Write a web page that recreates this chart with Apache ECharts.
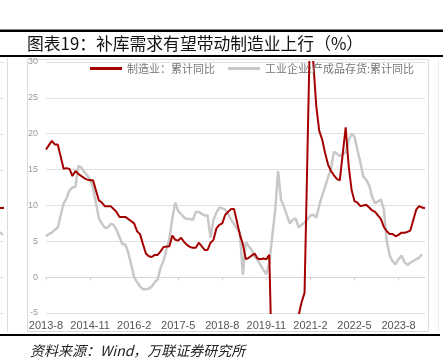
<!DOCTYPE html>
<html><head><meta charset="utf-8">
<script src="https://cdn.jsdelivr.net/npm/echarts@6/dist/echarts.min.js"></script>
<style>html,body{margin:0;padding:0;background:#fff;}#c{width:446px;height:362px;}</style>
</head><body><div id="c"></div>
<script>
const months = [
 '2013-8','2013-9','2013-10','2013-11','2013-12',
 '2014-1','2014-2','2014-3','2014-4','2014-5','2014-6','2014-7','2014-8','2014-9','2014-10','2014-11','2014-12',
 '2015-1','2015-2','2015-3','2015-4','2015-5','2015-6','2015-7','2015-8','2015-9','2015-10','2015-11','2015-12',
 '2016-1','2016-2','2016-3','2016-4','2016-5','2016-6','2016-7','2016-8','2016-9','2016-10','2016-11','2016-12',
 '2017-1','2017-2','2017-3','2017-4','2017-5','2017-6','2017-7','2017-8','2017-9','2017-10','2017-11','2017-12',
 '2018-1','2018-2','2018-3','2018-4','2018-5','2018-6','2018-7','2018-8','2018-9','2018-10','2018-11','2018-12',
 '2019-1','2019-2','2019-3','2019-4','2019-5','2019-6','2019-7','2019-8','2019-9','2019-10','2019-11','2019-12',
 '2020-1','2020-2','2020-3','2020-4','2020-5','2020-6','2020-7','2020-8','2020-9','2020-10','2020-11','2020-12',
 '2021-1','2021-2','2021-3','2021-4','2021-5','2021-6','2021-7','2021-8','2021-9','2021-10','2021-11','2021-12',
 '2022-1','2022-2','2022-3','2022-4','2022-5','2022-6','2022-7','2022-8','2022-9','2022-10','2022-11','2022-12',
 '2023-1','2023-2','2023-3','2023-4','2023-5','2023-6','2023-7','2023-8','2023-9','2023-10','2023-11','2023-12',
 '2024-1','2024-2','2024-3','2024-4','2024-5'
];
// 制造业固定资产投资：累计同比
const mfgInvest = [
 17.8,18.4,19.0,18.5,18.5,
 null,15.1,15.2,15.1,14.1,14.8,14.4,14.1,13.8,13.6,13.5,13.5,
 null,10.7,10.4,9.9,9.9,9.9,9.5,9.1,8.4,8.4,8.4,8.1,
 null,7.5,6.4,6.0,4.6,3.3,2.9,2.8,3.1,3.1,3.6,4.2,
 null,4.3,5.8,5.2,5.1,5.5,4.9,4.5,4.2,4.1,4.1,4.8,
 null,3.8,3.8,4.8,5.2,6.8,7.3,7.5,8.7,9.1,9.5,9.5,
 null,5.9,4.6,2.5,2.7,3.0,3.3,2.6,2.5,2.6,2.5,3.1,
 null,-31.5,-25.2,-18.8,-14.8,-11.7,-10.2,-8.1,-6.5,-5.3,-3.5,-2.2,
 null,37.3,29.8,23.8,20.4,19.2,17.3,15.7,14.8,14.2,13.7,13.5,
 null,20.9,15.6,12.2,10.6,10.4,9.9,10.0,10.1,9.7,9.3,9.1,
 null,8.1,7.0,6.4,6.0,6.0,5.7,5.9,6.2,6.2,6.3,6.5,
 null,9.4,9.9,9.7,9.6
];
// 工业企业：产成品存货：累计同比
const inventory = [
 5.7,6.0,6.2,6.6,6.9,
 null,10.3,11.0,12.1,12.5,12.6,15.5,15.3,14.7,14.2,13.6,12.5,
 null,8.2,7.5,6.9,6.9,7.4,7.3,6.6,5.6,4.6,4.6,3.4,
 null,0.0,-0.7,-1.3,-1.7,-1.7,-1.6,-1.3,-0.7,-0.3,1.3,2.3,
 null,5.4,8.2,10.4,9.2,8.8,8.3,8.1,8.1,8.0,9.1,9.1,
 null,8.6,8.6,5.5,8.0,9.0,9.7,9.6,9.4,8.8,8.0,7.4,
 null,6.2,0.3,4.9,4.3,3.8,2.8,2.4,1.7,1.0,0.4,2.0,
 null,9.3,14.8,10.8,9.8,8.6,7.5,8.0,8.2,6.9,7.3,7.6,
 null,8.6,8.7,8.3,10.0,11.4,12.6,13.9,15.1,17.5,17.2,16.9,
 null,17.4,19.0,20.0,19.6,17.7,16.0,14.0,13.6,12.8,11.2,10.3,
 null,10.8,9.4,5.0,3.0,2.2,1.8,2.5,3.0,2.1,1.7,2.0,
 null,2.5,2.7,3.2,null
];
const seriesNames = ['制造业：累计同比', '工业企业:产成品存货:累计同比'];
const titleText = '图表19：补库需求有望带动制造业上行（%）';
const sourceText = '资料来源：Wind，万联证券研究所';

const chart = echarts.init(document.getElementById('c'), null, {renderer: 'canvas'});
const font = 'Liberation Sans, Arial, sans-serif';
const cjk = '"Noto Sans CJK SC", sans-serif';
const grayLine = '#dcdcdc';

const leftGridYs = [62, 98, 134, 170, 206, 241, 277, 313];
const graphics = [
  {type:'rect', shape:{x:0, y:29.5, width:443, height:2.5}, style:{fill:'#000'}, silent:true},
  {type:'rect', shape:{x:0, y:55, width:443, height:2}, style:{fill:'#000'}, silent:true},
  {type:'text', x:27, y:44, style:{text:titleText, font:'16.8px ' + cjk, fill:'#111', textVerticalAlign:'middle'}, silent:true},
  {type:'rect', shape:{x:27.5, y:59.5, width:401, height:272}, style:{fill:'none', stroke:grayLine, lineWidth:1}, silent:true},
  {type:'line', shape:{x1:7.5, y1:58, x2:7.5, y2:332}, style:{stroke:grayLine, lineWidth:1}, silent:true},
  {type:'line', shape:{x1:438.5, y1:58, x2:438.5, y2:332}, style:{stroke:'#eeeeee', lineWidth:1}, silent:true},
  {type:'rect', shape:{x:0, y:334, width:440, height:2}, style:{fill:'#000'}, silent:true},
  {type:'text', x:30, y:351, style:{text:sourceText, font:'italic 14px ' + cjk, fill:'#222', textVerticalAlign:'middle'}, silent:true},
  {type:'line', shape:{x1:0, y1:208, x2:4, y2:208}, style:{stroke:'#a50000', lineWidth:2}, silent:true},
  {type:'line', shape:{x1:0, y1:232, x2:3, y2:235}, style:{stroke:'#c8c8c8', lineWidth:2}, silent:true}
];
leftGridYs.forEach(function (y) {
  graphics.push({type:'line', shape:{x1:0, y1:y + 0.5, x2:4, y2:y + 0.5}, style:{stroke:'#e3e3e3', lineWidth:1}, silent:true});
});

chart.setOption({
  animation: false,
  backgroundColor: '#fff',
  graphic: graphics,
  legend: {
    left: 90, top: 63, padding: 0,
    itemWidth: 32, itemHeight: 3, itemGap: 13,
    icon: 'rect',
    textStyle: {fontFamily: cjk, fontSize: 11, color: '#777'},
    data: seriesNames
  },
  grid: {left: 46, right: 21, top: 62, bottom: 49, containLabel: false},
  xAxis: [
    {
      type: 'category', data: months, boundaryGap: false, position: 'bottom',
      axisLine: {show: false, onZero: false},
      axisTick: {show: false},
      axisLabel: {interval: 14, color: '#555', fontFamily: font, fontSize: 11, margin: 7},
      splitLine: {show: false}
    },
    {
      type: 'category', data: months, boundaryGap: false, position: 'bottom',
      axisLine: {show: true, onZero: true, lineStyle: {color: '#d4d4d4', width: 1}},
      axisTick: {show: true, interval: 14, length: 3, lineStyle: {color: '#d4d4d4'}},
      axisLabel: {show: false},
      splitLine: {show: false}
    }
  ],
  yAxis: {
    type: 'value', min: -5, max: 30, interval: 5,
    axisLine: {show: false}, axisTick: {show: false},
    axisLabel: {color: '#999', fontFamily: font, fontSize: 9, margin: 8},
    splitLine: {lineStyle: {color: '#e0e0e0', width: 1}}
  },
  series: [
    {
      name: seriesNames[0], type: 'line', data: mfgInvest, xAxisIndex: 0,
      symbol: 'none', connectNulls: true, clip: true, z: 3,
      lineStyle: {color: '#a50000', width: 2}, itemStyle: {color: '#a50000'}
    },
    {
      name: seriesNames[1], type: 'line', data: inventory, xAxisIndex: 0,
      symbol: 'none', connectNulls: true, clip: true, z: 2,
      lineStyle: {color: '#c8c8c8', width: 2.5}, itemStyle: {color: '#c8c8c8'}
    }
  ]
});
</script>
</body></html>
